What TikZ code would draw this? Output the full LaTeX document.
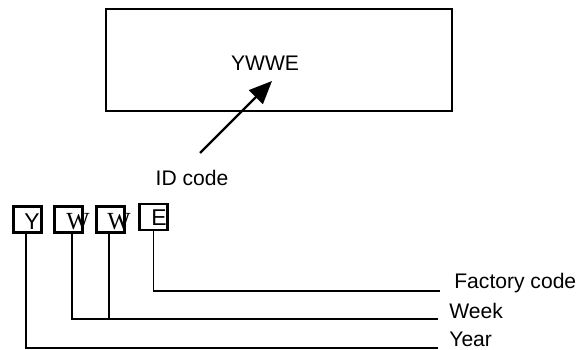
\documentclass[tikz,border=0pt]{standalone}
\usepackage{fontspec}
\setmainfont{Liberation Sans}
\newfontfamily\serifw{Liberation Serif}
\usetikzlibrary{arrows.meta,positioning}

\begin{document}
\begin{tikzpicture}[x=0.02cm,y=-0.02cm,
    box/.style={draw,line width=1.3pt,minimum width=0.56cm,minimum height=0.52cm,inner sep=0pt},
    letter/.style={inner sep=0pt,font=\fontsize{13}{15}\selectfont},
    wletter/.style={inner sep=0pt,font=\serifw\fontsize{14}{16}\selectfont},
    lbl/.style={anchor=west,inner sep=0pt,font=\fontsize{12}{14}\selectfont},
    lead/.style={line width=1.1pt}]
    \useasboundingbox (0,0) rectangle (580,350);

    % Chip outline with marking
    \draw[line width=1.3pt] (106,9) rectangle (452,111);
    \node[letter,font=\fontsize{12}{14}\selectfont] (mark) at (265,63) {YWWE};
    \node[lbl,anchor=center] (idcode) at (192,178) {ID code};
    \coordinate (tail) at (200,153);
    \coordinate (tip) at (272,81);
    \draw[line width=1.3pt,-{Triangle[length=13pt,width=11pt]}] (tail) -- (tip);

    % Code boxes
    \node[box] (yb) at (27.5,219.5) {};
    \node[box] (wa) at (68.5,219.5) {};
    \node[box] (wb) at (110.5,219.5) {};
    \node[box] (eb) at (153.5,217) {};
    \node[letter] (yl) at (32,222) {Y};
    \node[wletter] (wal) at (78,222) {W};
    \node[wletter] (wbl) at (119,222) {W};
    \node[letter] (el) at (159,218) {E};

    % Legend
    \node[lbl] (fac) at (454,283) {Factory code};
    \node[lbl] (week) at (449,311) {Week};
    \node[lbl] (year) at (449,339) {Year};
    \coordinate (fend) at (440,291);
    \coordinate (wend) at (438,319);
    \coordinate (yend) at (438,348);

    % Leads
    \draw[lead] (eb.south) |- (fend);
    \draw[lead] (72,233) |- (wend);
    \draw[lead] (109,233) -- (109,319);
    \draw[lead] (26,233) |- (yend);
\end{tikzpicture}
\end{document}
